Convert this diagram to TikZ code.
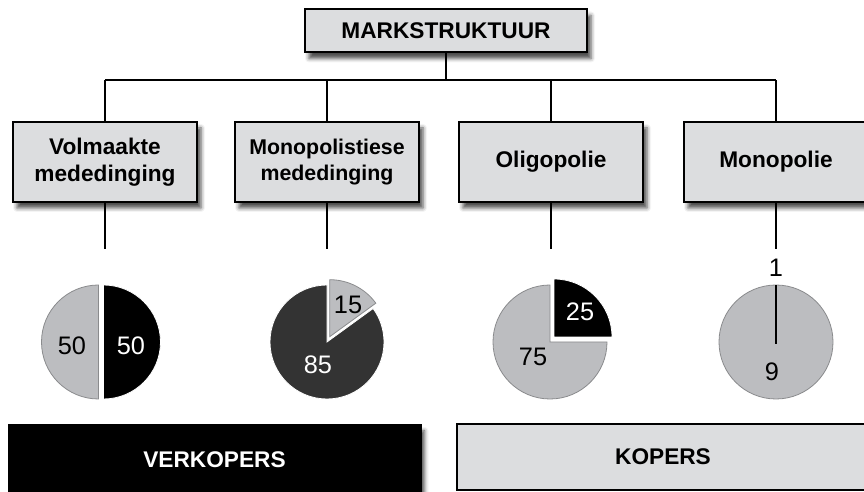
\documentclass[tikz,border=0pt]{standalone}
\usepackage{fontspec}
\setmainfont{Liberation Sans}
\usepackage{xcolor}
\usepackage{tikz}
\usetikzlibrary{positioning, calc, shadows.blur}

\definecolor{boxgray}{HTML}{DCDDDF}
\definecolor{piegray}{HTML}{BCBDC0}
\definecolor{piedark}{HTML}{333333}
\definecolor{pieline}{HTML}{8A8B8D}

\begin{document}
\begin{tikzpicture}[
    x=0.75pt, y=0.75pt,
    every node/.style={font=\fontsize{17}{20}\selectfont\bfseries},
    catbox/.style={draw, line width=1.5pt, fill=boxgray, align=center,
        minimum width=138pt, minimum height=60pt, inner sep=2pt,
        blur shadow={shadow xshift=3pt, shadow yshift=-4.5pt, shadow blur radius=3pt, shadow opacity=70}},
    topbox/.style={catbox, minimum width=211.5pt, minimum height=32.25pt},
    sidebox/.style={draw, line width=1.5pt, minimum width=309pt, minimum height=52pt},
    num/.style={font=\fontsize{19}{22}\selectfont},
    lightslice/.style={fill=piegray, draw=pieline, line width=0.6pt},
    darkslice/.style={fill=piedark, draw=white, line width=0.6pt},
    blackslice/.style={fill=black, draw=white, line width=0.6pt},
    conn/.style={line width=1.5pt},
    ]
    \useasboundingbox (0,0) rectangle (864,492);

    % Title
    \node[topbox] (mark) at (446,461) {\mdseries\bfseries MARKSTRUKTUUR};

    % Market forms
    \node[catbox] (vol) at (105,330) {Volmaakte\\mededinging};
    \node[catbox, font=\fontsize{16}{20}\selectfont\bfseries] (mon) at (327,330) {Monopolistiese\\mededinging};
    \node[catbox] (oli) at (551,330) {Oligopolie};
    \node[catbox] (mono) at (776,330) {Monopolie};

    % Tree lines
    \coordinate (bar) at (446,412);
    \draw[conn] (mark.south) -- (bar);
    \draw[conn] (vol.north |- bar) -- (mono.north |- bar);
    \foreach \n in {vol, mon, oli, mono} {
        \draw[conn] (\n.north) -- (\n.north |- bar);
        \coordinate (\n-end) at ($(\n.south)+(0,-46)$);
        \draw[conn] (\n.south) -- (\n-end);
    }

    % Pie 1: 50/50
    \filldraw[lightslice] (98.5,150) -- (98.5,207) arc[start angle=90, end angle=270, radius=57] -- cycle;
    \filldraw[blackslice] (103.5,150) -- (103.5,207) arc[start angle=90, end angle=-90, radius=57] -- cycle;
    \node[num] (p1a) at (72,146) {50};
    \node[num, text=white] (p1b) at (131,146) {50};

    % Pie 2: 85/15
    \filldraw[darkslice] (327,150) -- ++(90:57) arc[start angle=90, end angle=396, radius=57] -- cycle;
    \filldraw[lightslice] (329.7,155.3) -- ++(36:57) arc[start angle=36, end angle=90, radius=57] -- cycle;
    \node[num, text=white] (p2a) at (318,127) {85};
    \node[num] (p2b) at (348,187) {15};

    % Pie 3: 75/25
    \filldraw[lightslice] (550,150) -- ++(90:57) arc[start angle=90, end angle=360, radius=57] -- cycle;
    \filldraw[blackslice] (554,155) -- ++(0:58) arc[start angle=0, end angle=90, radius=58] -- cycle;
    \node[num] (p3a) at (533,135) {75};
    \node[num, text=white] (p3b) at (580,180) {25};

    % Pie 4: 1 seller
    \filldraw[lightslice] (776,150) circle[radius=57];
    \draw[line width=1.8pt] (776,148) -- (776,207);
    \node[num] (p4a) at (776,224) {1};
    \node[num] (p4b) at (772,120) {9};

    % Sellers and buyers
    \node[sidebox, fill=black, text=white,
        blur shadow={shadow xshift=3pt, shadow yshift=-4.5pt, shadow blur radius=3pt, shadow opacity=70}]
        (sell) at (214.5,32.5) {VERKOPERS};
    \node[sidebox, fill=boxgray, minimum height=49.5pt] (buy) at (663,35) {KOPERS};

\end{tikzpicture}
\end{document}
